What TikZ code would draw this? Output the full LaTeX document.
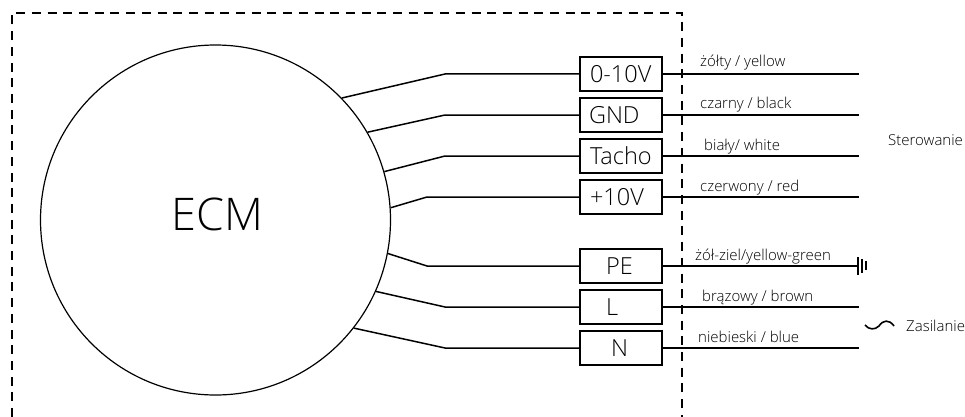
\documentclass[tikz,border=0pt]{standalone}
\usepackage{fontspec}
\setmainfont{Open Sans Light}
\tikzset{
  wire/.style={line width=1.5pt},
  termbox/.style={draw,line width=1.5pt,text width=82pt,align=left,minimum height=34pt,inner sep=0pt,font=\fontsize{23.5}{23.5}\selectfont},
  colourlabel/.style={anchor=base west,inner sep=0pt,font=\fontsize{15}{15}\selectfont},
  sidelabel/.style={anchor=base west,inner sep=0pt,font=\fontsize{15}{15}\selectfont}
}
\begin{document}
\begin{tikzpicture}[x=1pt,y=-1pt]
\useasboundingbox (0,0) rectangle (965,417);

\draw[line width=1.6pt,dash pattern=on 9pt off 6.7pt] (12,417) -- (12,13) -- (682,13) -- (682,417);

\node[circle,draw,line width=1.2pt,minimum size=350pt,inner sep=0pt] (ecm) at (215.5,220) {};
\node[inner sep=0pt,font=\fontsize{45}{45}\selectfont] (ecmtxt) at (217.5,214) {ECM};

\foreach \name/\txt/\y/\ind in {sig/0-10V/74/10,gnd/GND/115/9,tacho/Tacho/156/10,ref/+10V/197/10,pe/PE/266/26,live/L/307/26,neut/N/348/31}
{
\node[termbox] (\name) at (621,\y) {\hspace*{\ind pt}\txt};
\coordinate (\name end) at (859,\y);
\draw[wire] (\name) -- (\name end);
}

\foreach \name/\ang/\ex in {sig/44/445,gnd/30/445,tacho/16.4/445,ref/4.6/427,pe/-11.8/427,live/-24/445,neut/-38/445}
\draw[wire] (ecm.\ang) -- (\ex,0 |- \name) -- (\name);

\node[colourlabel] (lsig) at (700,67) {żółty / yellow};
\node[colourlabel] (lgnd) at (700,109) {czarny / black};
\node[colourlabel] (ltacho) at (704,150) {biały/ white};
\node[colourlabel] (lref) at (700,191) {czerwony / red};
\node[colourlabel] (lpe) at (695,260) {żół-ziel/yellow-green};
\node[colourlabel] (llive) at (702,301) {brązowy / brown};
\node[colourlabel] (lneut) at (698,342) {niebieski / blue};

\node[sidelabel] (ster) at (888,145) {Sterowanie};
\node[sidelabel] (zas) at (906,331) {Zasilanie};

% ground
\draw[wire] (858,257) -- (858,275);
\draw[line width=1.3pt] (862,259) -- (862,273);
\draw[line width=1.3pt] (866,261) -- (866,270);

% tilde
\draw[line width=1.6pt] (865,325) .. controls (869,330) and (875,330) .. (879,326) .. controls (883,320) and (889,319) .. (894,326);
\end{tikzpicture}
\end{document}
